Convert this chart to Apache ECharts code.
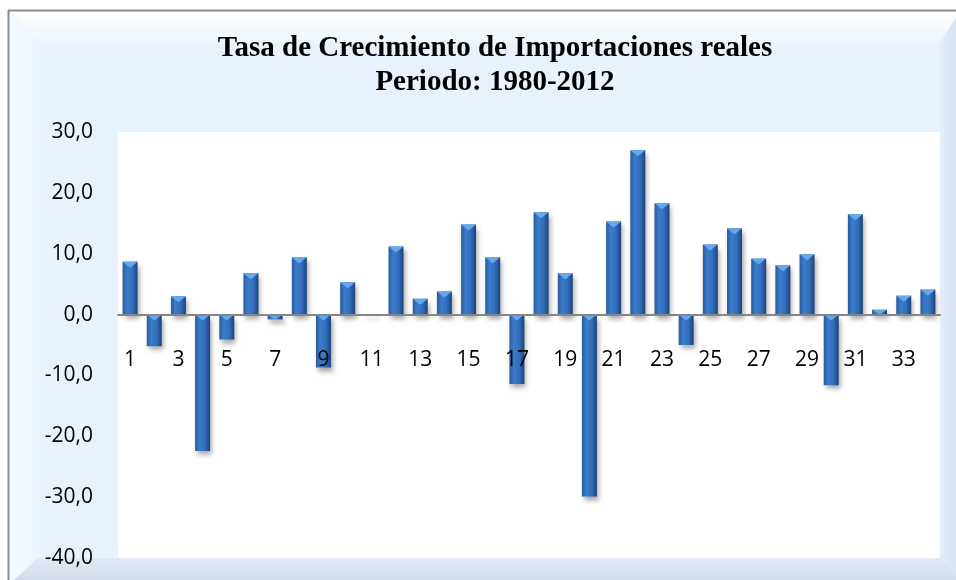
<!DOCTYPE html>
<html>
<head>
<meta charset="utf-8">
<script src="https://cdn.jsdelivr.net/npm/echarts@6/dist/echarts.min.js"></script>
<style>
  html, body { margin: 0; padding: 0; background: #fff; }
  #main { width: 956px; height: 580px; }
</style>
</head>
<body>
<div id="main"></div>
<script>
// categorias 1..34 (años 1980-2012)
const categorias = ['1','2','3','4','5','6','7','8','9','10','11','12','13','14','15','16','17',
  '18','19','20','21','22','23','24','25','26','27','28','29','30','31','32','33','34'];
// tasa de crecimiento (%)
const tasas = [8.7, -5.2, 3.0, -22.4, -4.1, 6.8, -0.8, 9.4, -8.7, 5.3, 0.1, 11.2, 2.6, 3.8,
  14.8, 9.4, -11.4, 16.8, 6.8, -29.9, 15.3, 27.0, 18.3, -5.0, 11.5, 14.2, 9.2, 8.1, 9.9,
  -11.6, 16.5, 0.8, 3.1, 4.1];
const yTicks = [-40, -30, -20, -10, 0, 10, 20, 30];

const fontNum = '"Open Sans", "Noto Sans", sans-serif';
const gridTop = 132, gridBottom = 22, chartH = 580;
const plotH = chartH - gridTop - gridBottom;
const yMin = yTicks[0], yMax = yTicks[yTicks.length - 1];
// el eje X se dibuja sobre la línea del cero
const zeroOffset = -((0 - yMin) / (yMax - yMin)) * plotH;

const chart = echarts.init(document.getElementById('main'));

// marco biselado tipo Excel
const frame = [
  { type: 'rect', shape: { x: 9, y: 11, width: 947, height: 569 }, style: { fill: '#e8f2fd' } },
  {
    type: 'polygon',
    shape: { points: [[9, 11], [956, 11], [956, 18], [938, 43], [40, 43]] },
    style: { fill: new echarts.graphic.LinearGradient(0, 0, 0, 1, [
      { offset: 0, color: '#ffffff' }, { offset: 1, color: '#edf5fe' }]) }
  },
  {
    type: 'polygon',
    shape: { points: [[9, 11], [40, 43], [40, 558], [14, 580], [9, 580]] },
    style: { fill: new echarts.graphic.LinearGradient(0, 0, 1, 0, [
      { offset: 0, color: '#f5faff' }, { offset: 1, color: '#eaf4fe' }]) }
  },
  {
    type: 'polygon',
    shape: { points: [[956, 18], [940, 43], [940, 558], [956, 575]] },
    style: { fill: new echarts.graphic.LinearGradient(0, 0, 1, 0, [
      { offset: 0, color: '#e6eef9' }, { offset: 1, color: '#d8e2f0' }]) }
  },
  {
    type: 'polygon',
    shape: { points: [[14, 580], [38, 558], [940, 558], [956, 575], [956, 580]] },
    style: { fill: new echarts.graphic.LinearGradient(0, 0, 0, 1, [
      { offset: 0, color: '#e0e9f5' }, { offset: 1, color: '#d3dcea' }]) }
  },
  { type: 'line', shape: { x1: 8, y1: 10.5, x2: 956, y2: 10.5 }, style: { stroke: '#8c8c8c', lineWidth: 2 } },
  { type: 'line', shape: { x1: 8.5, y1: 10, x2: 8.5, y2: 580 }, style: { stroke: '#8c8c8c', lineWidth: 2 } }
].map((el) => Object.assign(el, { z: -10, silent: true }));

function renderBar(params, api) {
  const idx = api.value(0);
  const v = api.value(1);
  const top = api.coord([idx, Math.max(v, 0)]);
  const bot = api.coord([idx, Math.min(v, 0)]);
  const w = api.size([1, 0])[0] * 0.62;
  const x0 = top[0] - w / 2;
  const h = Math.max(bot[1] - top[1], 1);
  const tri = Math.min(6, h);
  return {
    type: 'group',
    children: [
      {
        type: 'rect',
        shape: { x: x0, y: top[1], width: w, height: h },
        style: {
          fill: new echarts.graphic.LinearGradient(0, 0, 1, 0, [
            { offset: 0, color: '#2a5b9c' },
            { offset: 0.3, color: '#3b7ccd' },
            { offset: 0.65, color: '#326fbd' },
            { offset: 1, color: '#1d4277' }
          ]),
          shadowBlur: 5,
          shadowOffsetX: 2,
          shadowOffsetY: 4,
          shadowColor: 'rgba(0,0,0,0.35)'
        }
      },
      {
        type: 'polygon',
        shape: { points: [[x0, top[1]], [x0 + w, top[1]], [x0 + w / 2, top[1] + tri]] },
        style: { fill: '#66a8ee' }
      }
    ]
  };
}

chart.setOption({
  animation: false,
  backgroundColor: '#ffffff',
  graphic: frame,
  title: {
    text: 'Tasa de Crecimiento de Importaciones reales\nPeriodo: 1980-2012',
    left: 490,
    top: 27,
    textAlign: 'center',
    textStyle: {
      fontFamily: '"Liberation Serif", "Times New Roman", serif',
      fontWeight: 'bold',
      fontSize: 29,
      lineHeight: 34,
      color: '#000'
    }
  },
  grid: {
    left: 118,
    right: 16,
    top: gridTop,
    bottom: gridBottom,
    outerBoundsMode: 'none',
    show: true,
    backgroundColor: '#ffffff',
    borderWidth: 0
  },
  xAxis: {
    type: 'category',
    data: categorias,
    position: 'bottom',
    offset: zeroOffset,
    z: 5,
    axisLine: { onZero: false, lineStyle: { color: '#868686', width: 2 } },
    axisTick: { show: false },
    axisLabel: {
      interval: 1,
      margin: 35,
      fontFamily: fontNum,
      fontSize: 21,
      color: '#000'
    }
  },
  yAxis: {
    type: 'value',
    min: yMin,
    max: yMax,
    interval: 10,
    splitLine: { show: false },
    axisLine: { show: false },
    axisTick: { show: false },
    axisLabel: {
      margin: 25,
      fontFamily: fontNum,
      fontSize: 21,
      color: '#000',
      formatter: (v) => v.toFixed(1).replace('.', ',')
    }
  },
  series: [
    {
      type: 'custom',
      z: 2,
      renderItem: renderBar,
      data: tasas.map((v, i) => [i, v]),
      encode: { x: 0, y: 1 }
    }
  ]
});
</script>
</body>
</html>
